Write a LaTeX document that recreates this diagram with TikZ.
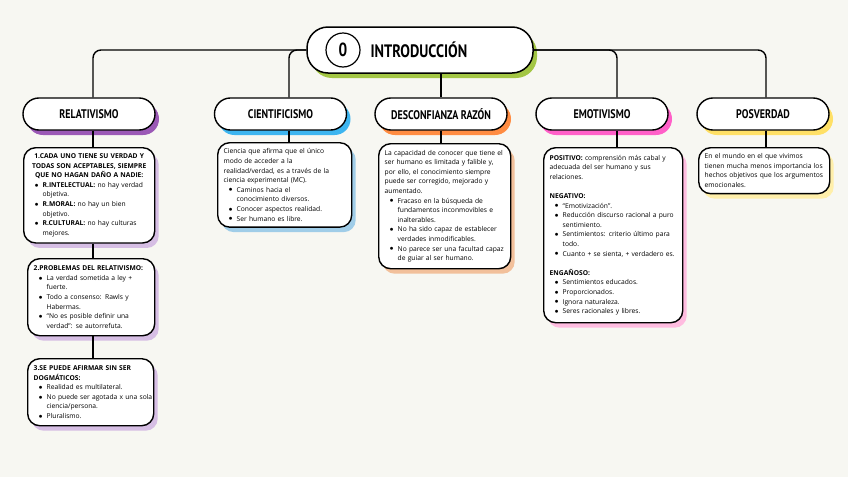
\documentclass[tikz,border=0pt]{standalone}
\usepackage{fontspec}
\setmainfont{Open Sans}
\newfontfamily\hdrfont[FakeStretch=0.8]{PT Sans}
\usepackage{enumitem}
\setlist[itemize]{nosep, leftmargin=13pt, labelsep=4pt, label={\raisebox{0.3pt}{$\bullet$}}}
\hyphenpenalty=10000
\exhyphenpenalty=10000
\usepackage{tikz}
\usetikzlibrary{shadows, positioning}
\definecolor{bgcream}{RGB}{247,247,242}
\definecolor{introgreen}{RGB}{163,198,68}
\definecolor{relpurple}{RGB}{155,89,182}
\definecolor{relpurplelt}{RGB}{214,190,228}
\definecolor{cienblue}{RGB}{61,181,240}
\definecolor{cienbluelt}{RGB}{160,205,232}
\definecolor{descorange}{RGB}{255,140,66}
\definecolor{descorangelt}{RGB}{242,192,155}
\definecolor{emotpink}{RGB}{255,95,200}
\definecolor{emotpinklt}{RGB}{255,188,224}
\definecolor{posvyellow}{RGB}{255,224,102}
\definecolor{posvyellowlt}{RGB}{255,239,170}
\tikzset{
  backshadow/.style={general shadow={fill=#1, shadow xshift=4pt, shadow yshift=-5pt}},
  titlebox/.style={rectangle, draw=black, fill=white, line width=1.5pt,
    rounded corners=21pt, minimum width=226pt, minimum height=46pt},
  zerocirc/.style={circle, draw=black, line width=1.2pt, minimum size=34pt,
    font=\hdrfont\bfseries\fontsize{19}{22}\selectfont},
  hdr/.style={rectangle, draw=black, fill=white, line width=1.4pt,
    rounded corners=15.9pt, minimum width=132pt, minimum height=32pt,
    font=\hdrfont\bfseries\fontsize{12.5}{14}\selectfont},
  txtbox/.style={rectangle, draw=black, fill=white, line width=1.4pt,
    rounded corners=12pt, align=left, inner sep=6pt, anchor=north west,
    font=\fontsize{6.7}{9.6}\selectfont},
  line/.style={line width=1.4pt, color=black, rounded corners=8pt}
}
\begin{document}
\begin{tikzpicture}[x=1pt, y=-1pt]
  % Background
  \fill[bgcream] (0,0) rectangle (848,477);
  \useasboundingbox (0,0) rectangle (848,477);

  % Title
  \node[titlebox, backshadow=introgreen] (intro) at (420,50) {};
  \node[zerocirc] (zero) at (343,50) {0};
  \node[anchor=west, font=\hdrfont\bfseries\fontsize{18}{21}\selectfont] (introtxt) at (367,50) {INTRODUCCIÓN};

  % Headers
  \node[hdr, backshadow=relpurple] (relativismo) at (89,114) {RELATIVISMO};
  \node[hdr, backshadow=cienblue] (cientificismo) at (280.5,114) {CIENTIFICISMO};
  \node[hdr, backshadow=descorange] (desconfianza) at (441,114) {DESCONFIANZA RAZÓN};
  \node[hdr, backshadow=emotpink] (emotivismo) at (602,114) {EMOTIVISMO};
  \node[hdr, backshadow=posvyellow] (posverdad) at (763,114) {POSVERDAD};

  % Relativismo
  \node[txtbox, backshadow=relpurplelt, text width=119pt, minimum height=81pt] (rel1) at (23,147) {%
    {\centering\bfseries 1.CADA UNO TIENE SU VERDAD Y TODAS SON ACEPTABLES, SIEMPRE QUE NO HAGAN DAÑO A NADIE:\par}
    \begin{itemize}
      \item \textbf{R.INTELECTUAL:} no hay verdad objetiva.
      \item \textbf{R.MORAL:} no hay un bien objetivo.
      \item \textbf{R.CULTURAL:} no hay culturas mejores.
    \end{itemize}};
  \node[txtbox, backshadow=relpurplelt, text width=115pt, minimum height=77pt] (rel2) at (27,258) {%
    \textbf{2.PROBLEMAS DEL RELATIVISMO:}
    \begin{itemize}
      \item La verdad sometida a ley + fuerte.
      \item Todo a consenso: Rawls y Habermas.
      \item “No es posible definir una verdad”: se autorrefuta.
    \end{itemize}};
  \node[txtbox, backshadow=relpurplelt, text width=114pt, minimum height=67pt] (rel3) at (27,358) {%
    \textbf{3.SE PUEDE AFIRMAR SIN SER DOGMÁTICOS:}
    \begin{itemize}
      \item Realidad es multilateral.
      \item \makebox[\linewidth][l]{No puede ser agotada x una sola}\newline ciencia/persona.
      \item Pluralismo.
    \end{itemize}};

  % Cientificismo
  \node[txtbox, backshadow=cienbluelt, text width=122pt, minimum height=80pt] (cien) at (217,142) {%
    Ciencia que afirma que el único\\ modo de acceder a la\\ realidad/verdad, es a través de la\\ ciencia experimental (MC).
    \begin{itemize}
      \item Caminos hacia el\newline conocimiento diversos.
      \item Conocer aspectos realidad.
      \item Ser humano es libre.
    \end{itemize}};

  % Desconfianza razon
  \node[txtbox, backshadow=descorangelt, text width=120pt, minimum height=125pt] (desc) at (378,143) {%
    La capacidad de conocer que tiene el\\ ser humano es limitada y falible y,\\ por ello, el conocimiento siempre\\ puede ser corregido, mejorado y\\ aumentado.
    \begin{itemize}
      \item Fracaso en la búsqueda de fundamentos inconmovibles e inalterables.
      \item No ha sido capaz de establecer verdades inmodificables.
      \item No parece ser una facultad capaz\newline de guiar al ser humano.
    \end{itemize}};

  % Emotivismo
  \node[txtbox, backshadow=emotpinklt, text width=127pt, minimum height=175pt] (emot) at (543,147) {%
    \mbox{\textbf{POSITIVO:} comprensión más cabal y}\\ adecuada del ser humano y sus\\ relaciones.\par
    \vspace{9.6pt}
    \textbf{NEGATIVO:}
    \begin{itemize}
      \item “Emotivización”.
      \item Reducción discurso racional a puro sentimiento.
      \item Sentimientos: criterio último para todo.
      \item Cuanto + se sienta, + verdadero es.
    \end{itemize}
    \vspace{9.6pt}
    \textbf{ENGAÑOSO:}
    \begin{itemize}
      \item Sentimientos educados.
      \item Proporcionados.
      \item Ignora naturaleza.
      \item Seres racionales y libres.
    \end{itemize}};

  % Posverdad
  \node[txtbox, backshadow=posvyellowlt, text width=119pt, minimum height=43pt] (posv) at (698,147) {%
    En el mundo en el que vivimos tienen mucha menos importancia los hechos objetivos que los argumentos emocionales.};

  % Connections
  \draw[line] (intro.west) -| ([xshift=4pt]relativismo.north);
  \draw[line] (intro.west) -| ([xshift=8.5pt]cientificismo.north);
  \draw[line] (intro.south -| desconfianza.north) -- (desconfianza.north);
  \draw[line] (intro.east) -| ([xshift=15pt]emotivismo.north);
  \draw[line] (intro.east) -| ([xshift=3pt]posverdad.north);

  \draw[line] ([xshift=4pt]relativismo.south) -- ([xshift=4pt]relativismo.south |- rel1.north);
  \draw[line] ([xshift=4pt]relativismo.south |- rel1.south) -- ([xshift=4pt]relativismo.south |- rel2.north);
  \draw[line] ([xshift=4pt]relativismo.south |- rel2.south) -- ([xshift=4pt]relativismo.south |- rel3.north);
  \draw[line] ([xshift=8.5pt]cientificismo.south) -- ([xshift=8.5pt]cientificismo.south |- cien.north);
  \draw[line] (desconfianza.south) -- (desconfianza.south |- desc.north);
  \draw[line] ([xshift=15pt]emotivismo.south) -- ([xshift=15pt]emotivismo.south |- emot.north);
  \draw[line] ([xshift=3pt]posverdad.south) -- ([xshift=3pt]posverdad.south |- posv.north);
\end{tikzpicture}
\end{document}
